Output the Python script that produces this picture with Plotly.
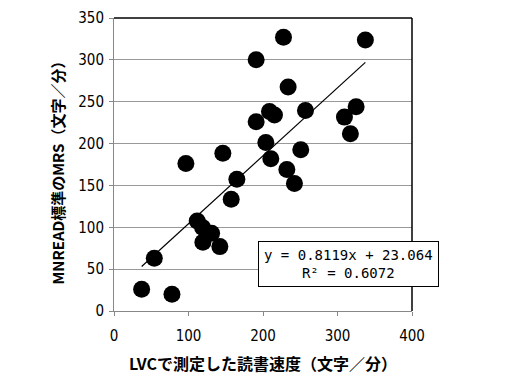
import plotly.graph_objects as go

lvc_speed = [227.5, 337.4, 190.8, 233.7, 257.0, 208.7, 215.4, 190.8, 309.3, 325.0,
             317.3, 203.8, 250.7, 146.1, 96.5, 210.5, 232.0, 242.2, 164.9, 157.3,
             111.7, 118.9, 131.0, 119.3, 142.1, 54.1, 37.1, 77.8]
mnread_mrs = [326.9, 323.7, 300.2, 267.5, 239.6, 238.4, 234.0, 226.0, 231.6, 244.0,
              211.7, 201.3, 192.5, 188.5, 176.2, 181.8, 169.0, 152.3, 157.5, 133.5,
              107.6, 99.8, 92.9, 82.1, 76.9, 63.0, 25.9, 19.9]

slope = 0.8119
intercept = 23.064
r2 = 0.6072

x_ticks = [0, 100, 200, 300, 400]
y_ticks = [0, 50, 100, 150, 200, 250, 300, 350]

x_title = "LVCで測定した読書速度（文字／分）"
y_title = "MNREAD標準のMRS（文字／分）"

trend_x = [min(lvc_speed), max(lvc_speed)]
trend_y = [slope * v + intercept for v in trend_x]

fig = go.Figure()
fig.add_trace(go.Scatter(x=lvc_speed, y=mnread_mrs, mode="markers",
                         marker=dict(size=17, color="black", line=dict(width=0)),
                         showlegend=False))
fig.add_trace(go.Scatter(x=trend_x, y=trend_y, mode="lines",
                         line=dict(color="black", width=1.2), showlegend=False))

tick_font = dict(family="Liberation Sans Narrow, DejaVu Sans Condensed, Arial Narrow, sans-serif",
                 size=15, color="black")

fig.update_xaxes(range=[0, 400], tickvals=x_ticks, ticks="outside", ticklen=4,
                 tickcolor="#888", linecolor="#888", linewidth=1, showline=True,
                 showgrid=False, zeroline=False, tickfont=tick_font, ticklabelstandoff=7,
                 automargin=False)
fig.update_yaxes(range=[0, 350], tickvals=y_ticks, ticks="outside", ticklen=4,
                 tickcolor="#888", linecolor="#888", linewidth=1, showline=True,
                 showgrid=True, gridcolor="#999", gridwidth=1, zeroline=False,
                 tickfont=tick_font, ticklabelstandoff=2, automargin=False)

fig.add_shape(type="line", xref="paper", yref="paper", x0=0, x1=1, y0=1, y1=1,
              line=dict(color="black", width=1.5))
fig.add_shape(type="line", xref="paper", yref="paper", x0=1, x1=1, y0=0, y1=1,
              line=dict(color="black", width=1.5))

# axis titles
fig.add_annotation(x=0.5, y=0, xref="paper", yref="paper", showarrow=False,
                   text="<b>" + x_title + "</b>", yanchor="middle", xanchor="center",
                   yshift=-52, font=dict(family="Noto Sans CJK JP, sans-serif", size=16, color="black"))
fig.add_annotation(x=0, y=0.5, xref="paper", yref="paper", showarrow=False,
                   text="<b>" + y_title + "</b>", textangle=-90, xanchor="center",
                   yanchor="middle", xshift=-57, yshift=-5,
                   font=dict(family="Noto Sans CJK JP, sans-serif", size=15, color="black"))

fig.add_annotation(x=314.8, y=55.6, xref="x", yref="y", showarrow=False,
                   text="y = 0.8119x + 23.064<br>R² = 0.6072",
                   font=dict(family="DejaVu Sans Mono, Liberation Mono, monospace", size=14, color="black"),
                   align="center", bgcolor="white", bordercolor="black", borderwidth=1,
                   borderpad=5)

fig.update_layout(width=507, height=377, margin=dict(l=114, r=95, t=18, b=66, autoexpand=False),
                  plot_bgcolor="white", paper_bgcolor="white")

# remove the page's default body margin so the figure fills the window
fig.write_html("out.html", config={"displayModeBar": False},
               post_script="document.body.style.margin='0';document.body.style.overflow='hidden';")
